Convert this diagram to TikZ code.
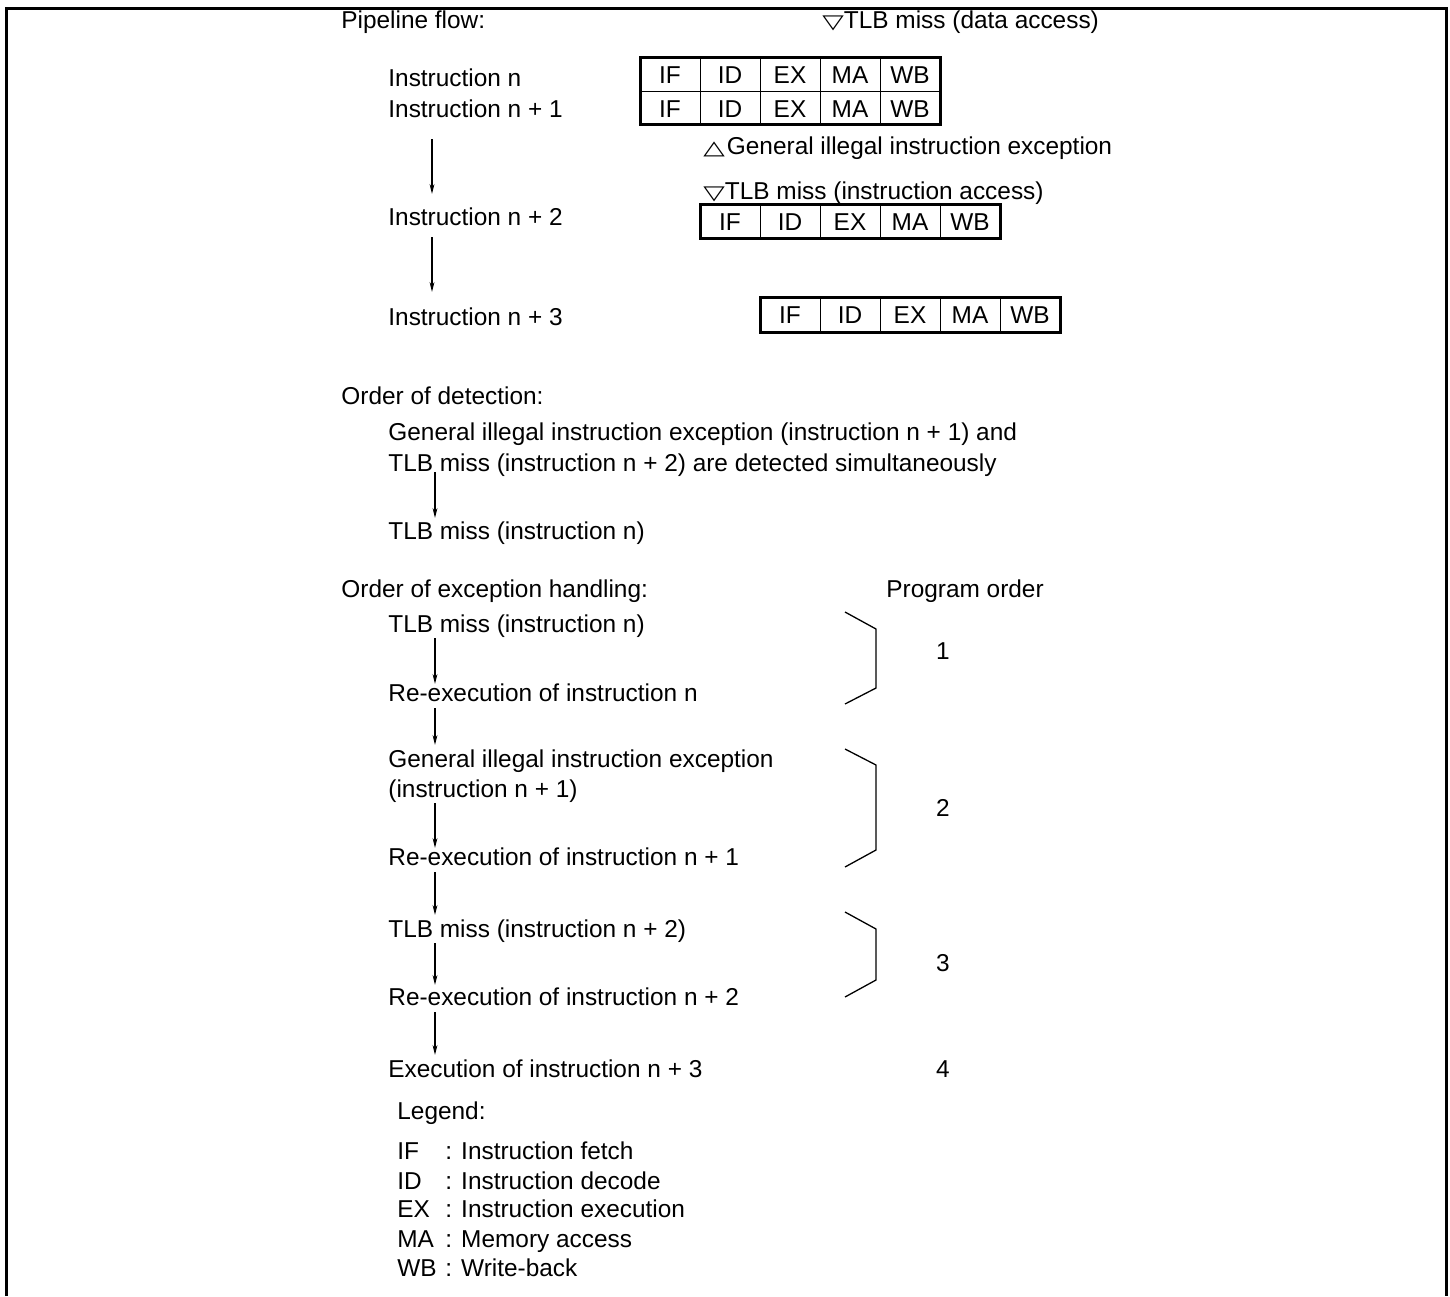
\documentclass[tikz,border=0pt]{standalone}
\usepackage{fontspec}
\setmainfont{Liberation Sans}
\newfontfamily\symfont{DejaVu Sans}
\usetikzlibrary{arrows.meta}
\newcommand{\dtri}{{\symfont\fontsize{14}{16}\selectfont\scalebox{1}[0.7]{▽}}}
\newcommand{\utri}{{\symfont\fontsize{14}{16}\selectfont\scalebox{1}[0.7]{△}}\hspace{1pt}}
\begin{document}
\begin{tikzpicture}[x=0.5pt,y=-0.5pt,
  txt/.style={anchor=base west, inner sep=0pt, font=\fontsize{12.2}{14}\selectfont},
  cell/.style={anchor=base, inner sep=0pt, font=\fontsize{12.2}{14}\selectfont},
  arr/.style={line width=0.6pt, -{Stealth[length=5pt,width=2.4pt]}},
  brace/.style={line width=0.65pt},
  outer/.style={line width=1.5pt},
  divider/.style={line width=0.5pt},
  frame/.style={line width=1.5pt}]
\useasboundingbox (0,0) rectangle (1450,1296);
% frame
\draw[frame] (6,1296) -- (6,8) -- (1446,8) -- (1446,1296);

% ---------- Pipeline flow ----------
\node[txt] (pf) at (341,28) {Pipeline flow:};
\node[txt] (tlbd) at (822,28) {\dtri TLB miss (data access)};
\node[txt] (in0) at (388,86) {Instruction n};
\node[txt] (in1) at (388,117) {Instruction n + 1};
\node[txt] (gie) at (703,154) {\utri General illegal instruction exception};
\node[txt] (tlbi) at (703,199) {\dtri TLB miss (instruction access)};
\node[txt] (in2) at (388,225) {Instruction n + 2};
\node[txt] (in3) at (388,325) {Instruction n + 3};

% box rows 1 and 2
\draw[divider] (640,91) -- (940,91);
\foreach \xx in {700,760,820,880} \draw[divider] (\xx,57) -- (\xx,124);
\draw[outer] (640,57) rectangle (940,124);
\foreach \s [count=\i] in {IF,ID,EX,MA,WB} {
  \node[cell] (ra\i) at ({610+60*\i},83) {\s};
  \node[cell] (rb\i) at ({610+60*\i},117) {\s};
}
% box 3
\foreach \xx in {760,820,880,940} \draw[divider] (\xx,204) -- (\xx,238);
\draw[outer] (700,204) rectangle (1000,238);
\foreach \s [count=\i] in {IF,ID,EX,MA,WB}
  \node[cell] (rc\i) at ({670+60*\i},230) {\s};
% box 4
\foreach \xx in {820,880,940,1000} \draw[divider] (\xx,297) -- (\xx,332);
\draw[outer] (760,297) rectangle (1060,332);
\foreach \s [count=\i] in {IF,ID,EX,MA,WB}
  \node[cell] (rd\i) at ({730+60*\i},323) {\s};

\coordinate (p1s) at (432,139); \coordinate (p1e) at (432,194);
\coordinate (p2s) at (432,237); \coordinate (p2e) at (432,292);
\draw[arr] (p1s) -- (p1e);
\draw[arr] (p2s) -- (p2e);

% ---------- Order of detection ----------
\node[txt] (od) at (341,404) {Order of detection:};
\node[txt] (od1) at (388,440) {General illegal instruction exception (instruction n + 1) and};
\node[txt] (od2) at (388,471) {TLB miss (instruction n + 2) are detected simultaneously};
\node[txt] (od3) at (388,539) {TLB miss (instruction n)};
\coordinate (d1s) at (435,472); \coordinate (d1e) at (435,518);
\draw[arr] (d1s) -- (d1e);

% ---------- Order of exception handling ----------
\node[txt] (oh) at (341,597) {Order of exception handling:};
\node[txt] (po) at (886,597) {Program order};
\node[txt] (h1) at (388,632) {TLB miss (instruction n)};
\node[txt] (h2) at (388,701) {Re-execution of instruction n};
\node[txt] (h3) at (388,767) {General illegal instruction exception};
\node[txt] (h3b) at (388,797) {(instruction n + 1)};
\node[txt] (h4) at (388,865) {Re-execution of instruction n + 1};
\node[txt] (h5) at (388,937) {TLB miss (instruction n + 2)};
\node[txt] (h6) at (388,1005) {Re-execution of instruction n + 2};
\node[txt] (h7) at (388,1077) {Execution of instruction n + 3};

\coordinate (e1s) at (435,638);  \coordinate (e1e) at (435,684);
\coordinate (e2s) at (435,708);  \coordinate (e2e) at (435,745);
\coordinate (e3s) at (435,803);  \coordinate (e3e) at (435,848);
\coordinate (e4s) at (435,872);  \coordinate (e4e) at (435,915);
\coordinate (e5s) at (435,943);  \coordinate (e5e) at (435,985);
\coordinate (e6s) at (435,1012); \coordinate (e6e) at (435,1055);
\foreach \k in {1,...,6} \draw[arr] (e\k s) -- (e\k e);

% braces
\draw[brace] (845,612) -- (876,629) -- (876,688) -- (845,704);
\draw[brace] (845,749) -- (876,765) -- (876,850) -- (845,867);
\draw[brace] (845,912) -- (876,929) -- (876,980) -- (845,997);
\node[cell] (n1) at (943,659) {1};
\node[cell] (n2) at (943,816) {2};
\node[cell] (n3) at (943,971) {3};
\node[cell] (n4) at (943,1077) {4};

% ---------- Legend ----------
\node[txt] (lg) at (397,1119) {Legend:};
\foreach \ab/\de/\yy [count=\i] in {IF/Instruction fetch/1159, ID/Instruction decode/1189, EX/Instruction execution/1217, MA/Memory access/1247, WB/Write-back/1276} {
  \node[txt] (la\i) at (397,\yy) {\ab};
  \node[txt] (ld\i) at (445,\yy) {: \de};
}
\end{tikzpicture}
\end{document}
